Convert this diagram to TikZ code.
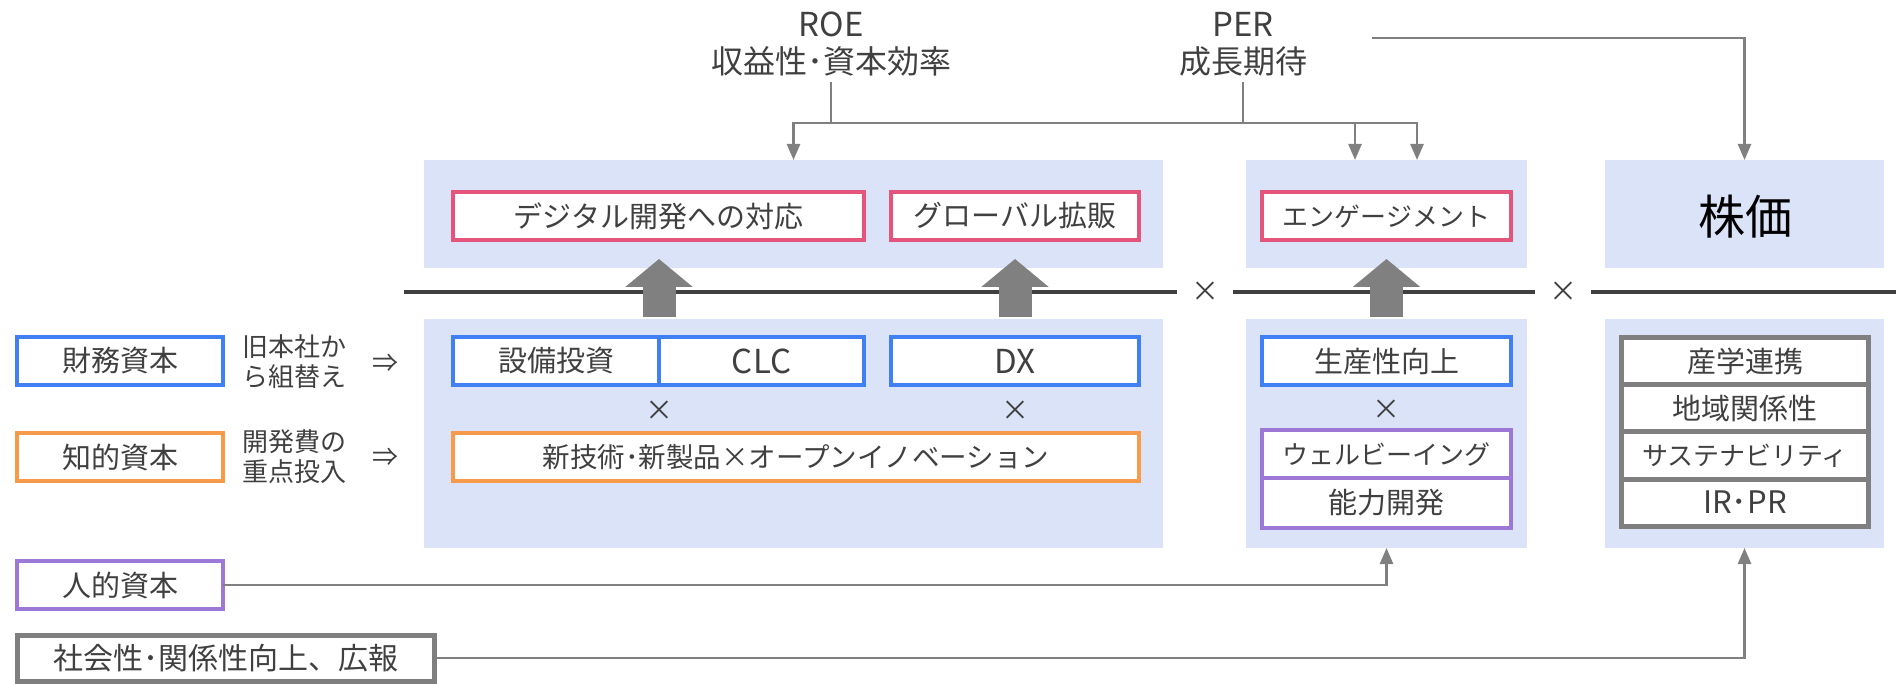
\documentclass[tikz,border=0pt]{standalone}
\usepackage{fontspec}
\setmainfont{Noto Sans CJK JP}
\usetikzlibrary{arrows.meta,calc}
\definecolor{panelc}{HTML}{DAE3F8}
\definecolor{cred}{HTML}{E5547A}
\definecolor{cblue}{HTML}{4080F4}
\definecolor{corange}{HTML}{F79A4A}
\definecolor{cpurple}{HTML}{9E78D6}
\definecolor{cgray}{HTML}{7F7F7F}
\definecolor{ctext}{HTML}{404040}
\definecolor{csep}{HTML}{404040}
\definecolor{carrow}{HTML}{808080}
\begin{document}
\begin{tikzpicture}[x=1pt,y=-1pt,
  every node/.style={inner sep=0pt,outer sep=0pt,text=ctext},
  bgpanel/.style={fill=panelc},
  box/.style={draw=#1,line width=4pt,fill=white,minimum height=48pt,font=\fontsize{29}{34}\selectfont},
  gbox/.style={draw=cgray,line width=5pt,fill=white,minimum width=247pt,minimum height=47pt,font=\fontsize{29}{34}\selectfont},
  fsmall/.style={font=\fontsize{26}{30}\selectfont},
  flatin/.style={font=\fontsize{33}{37}\selectfont},
  ftop/.style={font=\fontsize{32}{36}\selectfont},
  timesmark/.style={font=\fontsize{28}{30}\selectfont},
  conn/.style={draw=carrow,line width=2.5pt,-{Triangle[width=13pt,length=16pt]}},
  plain/.style={draw=carrow,line width=2.5pt},
  seprule/.style={draw=csep,line width=4pt},
  bigarrow/.style={draw=carrow,line width=33pt,-{Triangle[width=66pt,length=28pt]}}
]
\useasboundingbox (0,0) rectangle (1896,684);
% panels
\node[bgpanel,minimum width=739pt,minimum height=108pt] (P1t) at (793.5,214) {};
\node[bgpanel,minimum width=281pt,minimum height=108pt] (P2t) at (1386.5,214) {};
\node[bgpanel,minimum width=279pt,minimum height=108pt] (P3t) at (1744.5,214) {};
\node[bgpanel,minimum width=739pt,minimum height=229pt] (P1b) at (793.5,433.5) {};
\node[bgpanel,minimum width=281pt,minimum height=229pt] (P2b) at (1386.5,433.5) {};
\node[bgpanel,minimum width=279pt,minimum height=229pt] (P3b) at (1744.5,433.5) {};
% top boxes
\node[box=cred,minimum width=411pt] (dig) at (658.5,216) {デジタル開発への対応};
\node[box=cred,minimum width=248pt] (glo) at (1015,216) {グローバル拡販};
\node[box=cred,minimum width=249pt,fsmall] (eng) at (1386.5,216) {エンゲージメント};
\node[font=\fontsize{47}{52}\selectfont,text=black] (kabu) at (1745,217) {株価};
% lower boxes
\node[box=cblue,minimum width=206pt] (setsubi) at (556,361) {設備投資};
\node[box=cblue,minimum width=205pt,flatin] (clc) at (761.5,361) {CLC};
\node[box=cblue,minimum width=248pt,flatin] (dx) at (1015,361) {DX};
\node[timesmark] (t1) at (659,411) {×};
\node[timesmark] (t2) at (1015,411) {×};
\node[box=corange,minimum width=686pt,font=\fontsize{27.5}{32}\selectfont] (shin) at (796,457) {新技術･新製品×オープンイノベーション};
\node[box=cblue,minimum width=249pt] (seisan) at (1386.5,361) {生産性向上};
\node[timesmark] (t3) at (1386.5,410) {×};
\node[box=cpurple,minimum width=249pt,fsmall] (well) at (1386.5,454) {ウェルビーイング};
\node[box=cpurple,minimum width=249pt,minimum height=50pt] (noryoku) at (1386.5,503) {能力開発};
\node[gbox] (s1) at (1745,361.5) {産学連携};
\node[gbox] (s2) at (1745,408.5) {地域関係性};
\node[gbox,fsmall] (s3) at (1745,455.5) {サステナビリティ};
\node[gbox,font=\fontsize{31}{34}\selectfont] (s4) at (1745,502.5) {IR･PR};
% left column
\node[box=cblue,minimum width=206pt] (zaimu) at (120,361) {財務資本};
\node[box=corange,minimum width=206pt] (chiteki) at (120,457) {知的資本};
\node[box=cpurple,minimum width=206pt] (jinteki) at (120,585) {人的資本};
\node[gbox,minimum width=417pt,minimum height=46pt,font=\fontsize{30}{34}\selectfont] (social) at (225.5,658) {社会性･関係性向上、広報};
\node[fsmall,align=center] (lab1) at (294,362) {旧本社か\\ら組替え};
\node[fsmall,align=center] (lab2) at (294,457) {開発費の\\重点投入};
\node[fsmall] (imp1) at (385,363) {⇒};
\node[fsmall] (imp2) at (385,457) {⇒};
% top labels
\node[flatin,anchor=base] (roe) at (831,37) {ROE};
\node[ftop,anchor=base] (roeSub) at (831,74) {収益性･資本効率};
\node[flatin,anchor=base] (per) at (1243,37) {PER};
\node[ftop,anchor=base] (perSub) at (1243,74) {成長期待};
% separator
\node[timesmark] (m1) at (1205,292) {×};
\node[timesmark] (m2) at (1563,292) {×};
\coordinate (sepL) at (404,292);
\coordinate (sepR) at (1896,292);
\draw[seprule] (sepL) -- ($(m1.center)+(-28,0)$);
\draw[seprule] ($(m1.center)+(28,0)$) -- ($(m2.center)+(-28,0)$);
\draw[seprule] ($(m2.center)+(28,0)$) -- (sepR);
% connectors top
\coordinate (jr) at (831,123);
\draw[plain] ($(roeSub.south)+(0,5)$) -- (roeSub.south |- jr);
\draw[conn] (roeSub.south |- jr) -| (P1t.north);
\draw[conn] (roeSub.south |- jr) -| ($(P2t.north)+(-31.5,0)$);
\draw[conn] ($(perSub.south)+(0,5)$) -- (perSub.south |- jr) -| ($(P2t.north)+(30.5,0)$);
\coordinate (perR) at (1372,38);
\draw[conn] (perR) -| (P3t.north);
% connectors bottom
\draw[conn] (jinteki.east) -| (P2b.south);
\draw[conn] (social.east) -| (P3b.south);
% big arrows
\draw[bigarrow] ($(P1b.north -| setsubi.east)+(0,-2)$) -- ($(P1t.south -| setsubi.east)+(0,-9)$);
\draw[bigarrow] ($(P1b.north -| dx.north)+(0,-2)$) -- ($(P1t.south -| dx.north)+(0,-9)$);
\draw[bigarrow] ($(P2b.north)+(0,-2)$) -- ($(P2t.south)+(0,-9)$);
\end{tikzpicture}
\end{document}
